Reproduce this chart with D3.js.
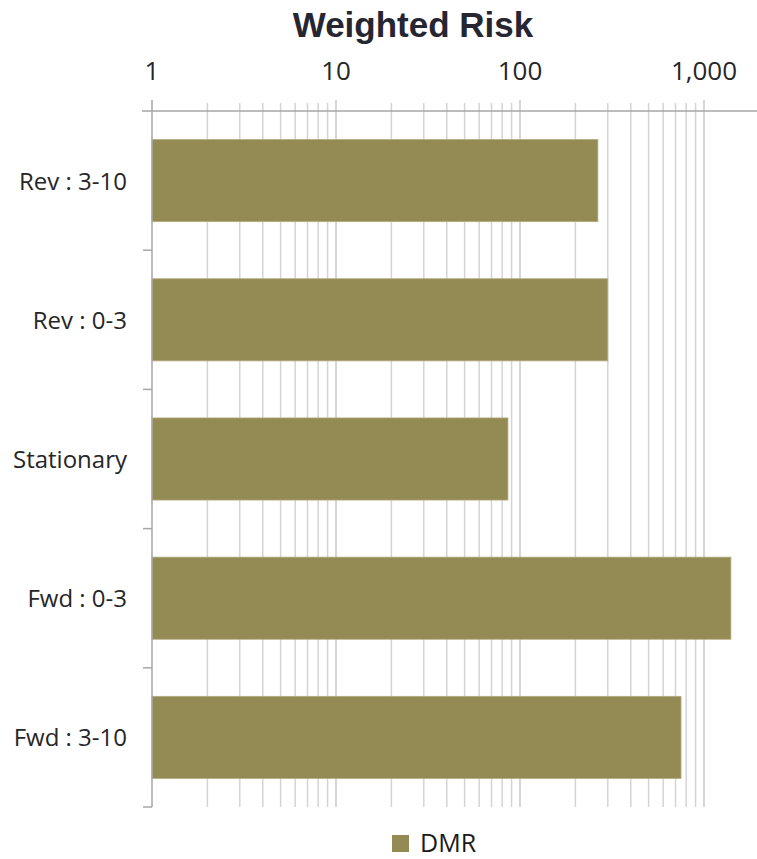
<!DOCTYPE html>
<html>
<head>
<meta charset="utf-8">
<script src="https://cdn.jsdelivr.net/npm/d3@7"></script>
<style>
  html, body { margin: 0; padding: 0; background: #fff; }
  svg { display: block; }
</style>
</head>
<body>
<svg id="chart" width="757" height="859"></svg>
<script>
// ---- data ----
const categories = ["Rev : 3-10", "Rev : 0-3", "Stationary", "Fwd : 0-3", "Fwd : 3-10"];
const dmrValues = [265, 300, 86, 1400, 750];
const tickValues = [1, 10, 100, 1000];
const seriesName = "DMR";
const title = "Weighted Risk";

// ---- layout ----
const W = 757, H = 859;
const plotLeft = 152, plotTop = 111, plotBottom = 807;
const xMax = 2000;
const decade = 184;

const svg = d3.select("#chart");
const barColor = "#948A54";
const gridColor = "#d4d4d4";
const axisColor = "#a6a6a6";
const fontFam = "'Open Sans', 'Noto Sans', sans-serif";

const x = d3.scaleLog().domain([1, xMax]).range([plotLeft, plotLeft + decade * Math.log10(xMax)]);
const y = d3.scaleBand().domain(categories).range([plotTop, plotBottom]).paddingInner(0.41).paddingOuter(0.205);

// gridline values: 1..9 x 10^k within domain
const gridVals = [];
for (let k = 0; k <= 3; k++) {
  for (let m = 1; m <= 9; m++) {
    const v = m * Math.pow(10, k);
    if (v <= xMax) gridVals.push(v);
  }
}
gridVals.push(xMax);

// gridlines
svg.append("g").selectAll("line").data(gridVals.filter(v => v > 1)).join("line")
  .attr("x1", d => x(d)).attr("x2", d => x(d))
  .attr("y1", d => (tickValues.includes(d) ? plotTop - 11 : plotTop - 8))
  .attr("y2", plotBottom)
  .attr("stroke", d => (tickValues.includes(d) ? "#c8c8c8" : gridColor))
  .attr("stroke-width", 1.5);

// top axis line
svg.append("line")
  .attr("x1", plotLeft - 10).attr("x2", W)
  .attr("y1", plotTop).attr("y2", plotTop)
  .attr("stroke", axisColor).attr("stroke-width", 1.5);

// bars
svg.append("g").selectAll("rect").data(categories).join("rect")
  .attr("x", x(1))
  .attr("y", d => y(d))
  .attr("width", (d, i) => x(dmrValues[i]) - x(1))
  .attr("height", y.bandwidth())
  .attr("fill", barColor)
  .attr("stroke", "#b5ad80")
  .attr("stroke-width", 0.8);

// y axis line
svg.append("line")
  .attr("x1", plotLeft).attr("x2", plotLeft)
  .attr("y1", plotTop - 11).attr("y2", plotBottom)
  .attr("stroke", axisColor).attr("stroke-width", 1.5);

// category boundary ticks
const bounds = categories.map(c => y(c) - y.step() * y.paddingInner() / 2);
bounds.push(plotBottom);
bounds.shift();
svg.append("g").selectAll("line").data(bounds).join("line")
  .attr("x1", plotLeft - 9).attr("x2", plotLeft)
  .attr("y1", d => d).attr("y2", d => d)
  .attr("stroke", axisColor).attr("stroke-width", 1.5);

// category labels
svg.append("g").selectAll("text").data(categories).join("text")
  .attr("x", plotLeft - 25)
  .attr("y", d => y(d) + y.bandwidth() / 2 + 9)
  .attr("text-anchor", "end")
  .attr("font-family", fontFam)
  .attr("font-size", 24)
  .attr("fill", "#262626")
  .text(d => d);

// x tick labels
const fmt = d3.format(",");
svg.append("g").selectAll("text").data(tickValues).join("text")
  .attr("x", d => x(d))
  .attr("y", 80)
  .attr("text-anchor", "middle")
  .attr("font-family", fontFam)
  .attr("font-size", 26)
  .attr("fill", "#262626")
  .text(d => fmt(d));

// title
svg.append("text")
  .attr("x", 413).attr("y", 37)
  .attr("text-anchor", "middle")
  .attr("font-family", "'Liberation Sans', Arial, sans-serif")
  .attr("font-weight", "bold")
  .attr("font-size", 35)
  .attr("fill", "#262633")
  .text(title);

// legend
svg.append("rect")
  .attr("x", 392).attr("y", 835)
  .attr("width", 17).attr("height", 17)
  .attr("fill", barColor);
svg.append("text")
  .attr("x", 420).attr("y", 852)
  .attr("font-family", fontFam)
  .attr("font-size", 25)
  .attr("fill", "#1a1a1a")
  .text(seriesName);
</script>
</body>
</html>
